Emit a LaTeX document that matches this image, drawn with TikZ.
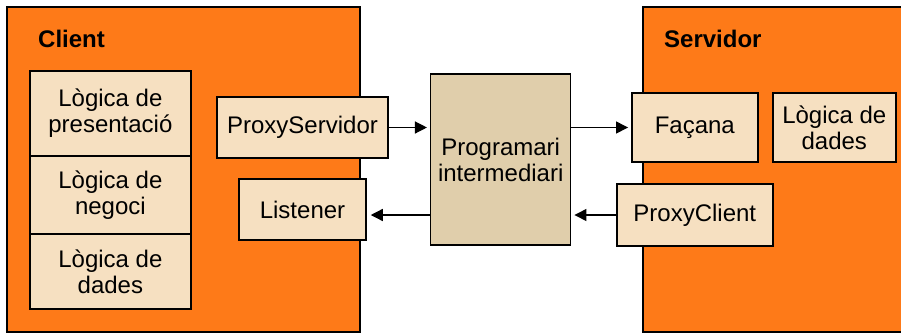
\documentclass[tikz,border=0pt]{standalone}
\usepackage{fontspec}
\setmainfont{Liberation Sans}
\usetikzlibrary{arrows.meta}
\definecolor{tierorange}{RGB}{254,122,24}
\definecolor{compfill}{RGB}{246,224,193}
\definecolor{midfill}{RGB}{224,206,171}
\begin{document}
\begin{tikzpicture}[x=1pt,y=-1pt,
  every node/.style={font=\fontsize{24}{26}\selectfont, align=center, inner sep=0pt},
  tier/.style={draw=black, fill=tierorange, line width=1.5pt},
  comp/.style={draw=black, fill=compfill, line width=1.5pt},
  middle/.style={draw=black, fill=midfill, line width=1.5pt},
  tiertitle/.style={anchor=base west, font=\fontsize{24}{26}\selectfont\bfseries},
  flow/.style={line width=1.3pt, -{Triangle[length=12pt,width=12pt]}, shorten >=3pt}]
\clip (0,0) rectangle (901,333);
\fill[white] (0,0) rectangle (901,333);

% client and server tiers
\draw[tier] (7,7) rectangle (360,332);
\draw[tier] (643,7) rectangle (915,332);
\node[tiertitle] (clientlbl) at (38,47) {Client};
\node[tiertitle] (serverlbl) at (664,47) {Servidor};

% client layers
\node[comp, minimum width=161pt, minimum height=85pt] (pres) at (110.4,113.3) {Lògica de\\presentació};
\node[comp, minimum width=161pt, minimum height=78pt] (neg) at (110.4,195) {Lògica de\\negoci};
\node[comp, minimum width=161pt, minimum height=75pt] (dadc) at (110.4,271.3) {Lògica de\\dades};

\node[comp, minimum width=171pt, minimum height=61pt] (ps) at (302.5,127.5) {ProxyServidor};
\node[comp, minimum width=127pt, minimum height=61pt] (lis) at (302.5,209.5) {Listener};

% middleware
\node[middle, minimum width=140pt, minimum height=171pt] (mid) at (500.7,159.5) {Programari\\intermediari};

% server components
\node[comp, minimum width=126pt, minimum height=69pt] (fac) at (694.8,127.5) {Façana};
\node[comp, minimum width=123pt, minimum height=69pt] (dads) at (834.3,127.5) {Lògica de\\dades};
\node[comp, minimum width=156pt, minimum height=62pt] (pc) at (694.8,215) {ProxyClient};

% message flow
\draw[flow] (ps.east) -- (ps.east -| mid.west);
\draw[flow] (mid.east |- fac.west) -- (fac.west);
\draw[flow] (pc.west) -- (pc.west -| mid.east);
\draw[flow, shorten >=4pt] (mid.west |- pc.west) -- (lis.east |- pc.west);
\end{tikzpicture}
\end{document}
